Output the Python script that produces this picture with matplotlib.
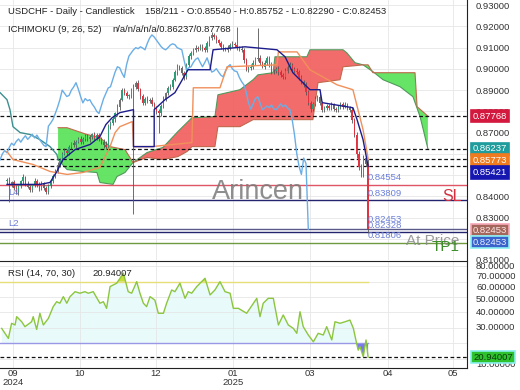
import numpy as np
import matplotlib
matplotlib.use('Agg')
import matplotlib.pyplot as plt
import matplotlib.transforms as mtrans

plt.rcParams['font.family'] = ['Liberation Sans', 'DejaVu Sans']

# daily closes (bar 0 = first visible candle), open = previous close
closes = [0.8478, 0.8452, 0.8465, 0.8440, 0.8421, 0.8448, 0.8470, 0.8492, 0.8460, 0.8445,
          0.8430, 0.8452, 0.8474, 0.8458, 0.8436, 0.8462, 0.8441, 0.8420, 0.8447, 0.8470,
          0.8495, 0.8520, 0.8548, 0.8572, 0.8600, 0.8615, 0.8605, 0.8630, 0.8650, 0.8640,
          0.8658, 0.8670, 0.8655, 0.8672, 0.8685, 0.8668, 0.8680, 0.8692, 0.8675, 0.8688,
          0.8670, 0.8655, 0.8640, 0.8634, 0.8730, 0.8745, 0.8762, 0.8790, 0.8820, 0.8855,
          0.8900, 0.8885, 0.8870, 0.8875, 0.8900, 0.8915, 0.8935, 0.8905, 0.8870, 0.8840,
          0.8860, 0.8850, 0.8855, 0.8835, 0.8820, 0.8800, 0.8790, 0.8825, 0.8860, 0.8885,
          0.8910, 0.8916, 0.8950, 0.8985, 0.9010, 0.9005, 0.8980, 0.8960, 0.9020, 0.9060,
          0.9075, 0.9090, 0.9100, 0.9095, 0.9104, 0.9098, 0.9090, 0.9120, 0.9145, 0.9160,
          0.9150, 0.9135, 0.9120, 0.9105, 0.9095, 0.9090, 0.9100, 0.9112, 0.9118, 0.9114,
          0.9100, 0.9095, 0.9090, 0.9040, 0.8996, 0.9005, 0.9010, 0.9030, 0.9045, 0.9052,
          0.9030, 0.9010, 0.9030, 0.9052, 0.9020, 0.8985, 0.8990, 0.9001, 0.8985, 0.8970,
          0.8963, 0.8990, 0.9010, 0.9020, 0.9000, 0.8990, 0.8987, 0.8960, 0.8940, 0.8925,
          0.8890, 0.8840, 0.8810, 0.8835, 0.8860, 0.8869, 0.8840, 0.8808, 0.8815, 0.8825,
          0.8817, 0.8830, 0.8812, 0.8808, 0.8820, 0.8835, 0.8822, 0.8830, 0.8815, 0.8808,
          0.8760, 0.8690, 0.8600, 0.8540, 0.8503, 0.8580, 0.8554, 0.82453]
first_open = 0.8470
wick_up_pips = [8, 12, 6, 10, 15, 7, 9, 14, 5, 11,
                9, 6, 13, 8, 10, 12, 7, 9, 11, 6,
                10, 8, 12, 7, 9, 11, 6, 10, 8, 13,
                7, 9, 12, 6, 10, 8, 11, 7, 9, 12,
                10, 8, 14, 20, 9, 11, 12, 8, 15, 10,
                12, 9, 11, 8, 10, 14, 9, 12, 7, 10,
                8, 11, 9, 12, 10, 7, 13, 9, 11, 8,
                10, 12, 9, 11, 14, 8, 10, 12, 9, 11,
                10, 8, 12, 9, 11, 13, 8, 10, 12, 15,
                9, 11, 8, 12, 10, 9, 13, 8, 11, 10,
                84, 10, 12, 9, 11, 8, 13, 10, 9, 141,
                12, 9, 10, 11, 8, 12, 10, 9, 11, 8,
                10, 12, 9, 11, 8, 10, 13, 9, 11, 10,
                12, 9, 10, 8, 11, 9, 12, 10, 8, 11,
                9, 12, 10, 8, 11, 9, 10, 12, 8, 10,
                11, 9, 14, 12, 10, 15, 11, 21]
wick_dn_pips = [10, 81, 8, 12, 9, 14, 7, 10, 12, 8,
                11, 9, 7, 13, 10, 8, 12, 9, 10, 7,
                9, 11, 8, 10, 12, 7, 9, 11, 8, 10,
                12, 8, 10, 9, 11, 7, 10, 12, 8, 9,
                11, 9, 12, 10, 8, 13, 9, 11, 10, 12,
                8, 10, 9, 11, 12, 585, 10, 9, 12, 8,
                11, 9, 10, 12, 8, 11, 90, 10, 9, 12,
                8, 11, 10, 9, 12, 10, 8, 11, 9, 10,
                12, 9, 11, 10, 8, 12, 9, 10, 11, 8,
                10, 12, 9, 11, 10, 8, 12, 9, 10, 11,
                9, 11, 10, 12, 8, 10, 11, 9, 12, 10,
                11, 8, 10, 12, 9, 11, 10, 8, 12, 9,
                10, 11, 9, 12, 10, 8, 11, 10, 9, 12,
                11, 9, 12, 10, 8, 11, 9, 10, 12, 8,
                10, 11, 9, 12, 10, 9, 11, 8, 10, 12,
                15, 12, 18, 14, 10, 12, 13, 16]

# ichimoku lines (bar, price vertices)
tenkan_x = [0, 14.3, 18.7, 21.7, 24.3, 29.6, 36.1, 40.4, 43, 45.7, 49.1, 55, 55, 64, 64,
            68.7, 73, 78.7, 88.3, 89.6, 103.5, 117.4, 120.9, 124.3, 131.7, 136.1, 137,
            150.4, 152.2, 154.8, 157]
tenkan_y = [0.8456, 0.8456, 0.8465, 0.8517, 0.8573, 0.8620, 0.8644, 0.8681, 0.8738, 0.8770,
            0.8794, 0.8808, 0.8634, 0.8634, 0.8808, 0.8855, 0.8888, 0.8996, 0.8996, 0.9090,
            0.9104, 0.9090, 0.9057, 0.8982, 0.8902, 0.8902, 0.8841, 0.8817, 0.8761, 0.8667,
            0.85421]
kijun_x = [0, 2.6, 11.3, 18.7, 26.1, 33, 40.4, 44.8, 47, 49.1, 54.5, 55, 63, 80.4, 81, 92.6,
           95.7, 117.4, 118, 126.1, 131.7, 143.5, 150.4, 154.8, 157]
kijun_y = [0.8611, 0.8573, 0.8550, 0.8517, 0.8503, 0.8512, 0.8536, 0.8634, 0.8700, 0.8728,
           0.8752, 0.8634, 0.8634, 0.8653, 0.8911, 0.8911, 0.9010, 0.9019, 0.9080, 0.9080,
           0.8996, 0.8925, 0.8902, 0.8714, 0.85773]
span_a_x = [22.2, 26.1, 33, 39.1, 40.4, 46.1, 47.8, 51.3, 54.8, 60.9, 67.8, 74.3, 80.4, 90.4,
            91.7, 101.3, 107, 109.1, 115.7, 116.5, 130.4, 131.7, 146.1, 147.8, 151.3, 154.8,
            159.1, 163.5, 170.9, 176.5, 179.6, 181.3, 183]
span_a_y = [0.8573, 0.8526, 0.8517, 0.8512, 0.8465, 0.8456, 0.8493, 0.8512, 0.8559, 0.8606,
            0.8630, 0.8705, 0.8770, 0.8775, 0.8878, 0.8902, 0.8949, 0.8972, 0.8982, 0.9057,
            0.9057, 0.9090, 0.9090, 0.9075, 0.9029, 0.9019, 0.8987, 0.8949, 0.8916, 0.8869,
            0.8775, 0.8700, 0.86237]
span_b_x = [22.2, 26.1, 34.8, 40.4, 44.8, 51.3, 54.8, 60.9, 67.8, 74.3, 78.3, 80.4, 90.4, 91.7,
            101.3, 107, 133, 135.2, 144.8, 146.1, 151.3, 154.8, 157, 159.1, 177.4, 178.3,
            181.7, 183]
span_b_y = [0.8723, 0.8723, 0.8691, 0.8677, 0.8634, 0.8620, 0.8559, 0.8583, 0.8573, 0.8587,
            0.8611, 0.8634, 0.8634, 0.8728, 0.8728, 0.8761, 0.8761, 0.8935, 0.8949, 0.9010,
            0.9015, 0.9019, 0.9019, 0.8982, 0.8982, 0.8822, 0.8790, 0.87768]
teal_x = [-3, 0, 1.3, 2.6, 5.7, 10, 14.3, 18.7, 21.7, 22.2]
teal_y = [0.8888, 0.8855, 0.8808, 0.8728, 0.8700, 0.8691, 0.8667, 0.8634, 0.8597, 0.8573]

# horizontal levels
dashed_levels = [0.87768, 0.86237, 0.85773, 0.85421]
sl_level = 0.84554
l4_level = 0.83809
l2_levels = [0.82453, 0.82328]
tp_level = 0.81806

# rsi (bar, value)
rsi_x = [-2.3, 0.6, 2.0, 3.5, 4.2, 6.4, 7.8, 10.7, 11.4, 12.9, 14.3, 15.8, 18.0, 20.1, 21.6,
         23.0, 24.5, 26.0, 27.4, 29.6, 31.7, 33.9, 35.3, 37.5, 40.4, 41.9, 43.3, 44.8, 47.7,
         50.6, 52.7, 54.2, 56.4, 57.8, 59.3, 60.7, 62.2, 64.3, 65.8, 68.0, 69.4, 71.6, 73.0,
         75.2, 77.4, 78.8, 80.3, 82.5, 86.1, 88.3, 90.4, 92.6, 94.8, 97.0, 98.4, 100.6, 104.2,
         108.6, 110.0, 111.4, 113.6, 115.8, 118.0, 120.1, 122.3, 124.5, 126.0, 127.4, 128.8,
         131.0, 133.2, 135.3, 137.5, 139.0, 141.2, 142.6, 144.8, 147.0, 149.1, 150.6, 152.0,
         152.7, 153.5, 154.9, 156.1, 157.0]
rsi_y = [39.7, 33.2, 43.0, 41.9, 47.3, 44.0, 40.8, 44.0, 47.3, 39.0, 49.5, 41.9, 46.2, 53.8,
         57.0, 56.0, 60.3, 56.0, 60.3, 63.5, 62.5, 63.5, 62.5, 63.5, 56.0, 57.0, 52.7, 66.8,
         69.0, 75.5, 63.5, 62.5, 70.0, 62.5, 56.0, 53.8, 60.3, 58.0, 49.5, 49.5, 56.0, 64.6,
         63.5, 69.0, 59.2, 63.5, 62.5, 66.8, 72.2, 61.4, 64.6, 70.0, 63.5, 62.5, 52.7, 52.7,
         49.5, 59.2, 47.3, 56.0, 59.2, 59.2, 41.9, 48.4, 41.9, 39.7, 36.5, 50.5, 40.8, 35.4,
         31.0, 36.5, 35.4, 40.8, 32.2, 44.0, 43.0, 44.0, 45.1, 39.7, 30.0, 25.6, 27.8, 21.3,
         32.2, 20.94007]
rsi_label_pos = [80.8, 73.9, 66.8, 58.8, 50.5, 40.8, 16.6]
rsi_label_txt = ['80.00000', '70.00000', '60.00000', '50.00000', '40.00000', '30.00000', '10.00000']

month_pos = [2.6, 31.7, 64.8, 98.3, 131.7, 165.6, 194.0]
month_lbl = ['09\n2024', '10', '12', '01\n2025', '03', '04', '05']
price_ticks = [0.81, 0.82, 0.83, 0.84, 0.85, 0.86, 0.87, 0.88, 0.89, 0.90, 0.91, 0.92, 0.93]
price_lbls = ['0.81000', '', '0.83000', '0.84000', '', '', '0.87000', '0.88000', '0.89000',
              '0.90000', '0.91000', '0.92000', '0.93000']

# --- figure
fig = plt.figure(figsize=(5.2, 3.9), dpi=100)
ax = fig.add_axes([0, 130 / 390, 467 / 520, 260 / 390])
ax2 = fig.add_axes([0, 22 / 390, 467 / 520, 107 / 390])

xlim = (-3.04, 200)
ax.set_xlim(*xlim)
ax.set_ylim(0.81038, 0.93244)

c = np.array(closes)
o = np.r_[first_open, c[:-1]]
hi = np.maximum(o, c) + np.array(wick_up_pips) / 1e4
lo = np.minimum(o, c) - np.array(wick_dn_pips) / 1e4
idx = np.arange(len(c))
up = c >= o

# cloud
sa_x, sa_y = np.array(span_a_x), np.array(span_a_y)
sb_x, sb_y = np.array(span_b_x), np.array(span_b_y)
gx = np.union1d(sa_x, sb_x)
ga = np.interp(gx, sa_x, sa_y)
gb = np.interp(gx, sb_x, sb_y)
ax.fill_between(gx, ga, gb, where=gb >= ga, interpolate=True, color='#55e255', alpha=0.9, lw=0, zorder=1)
ax.fill_between(gx, ga, gb, where=gb < ga, interpolate=True, color='#f25c5c', alpha=0.9, lw=0, zorder=1)
ax.plot(sa_x, sa_y, color='#4f9a5a', lw=0.8, zorder=1.5)
ax.plot(sb_x, sb_y, color='#c0684c', lw=0.8, zorder=1.5)

# horizontal levels
for lv in dashed_levels:
    ax.axhline(lv, color='#111111', lw=0.9, ls=(0, (3, 2)), zorder=2)
ax.axhline(sl_level, color='#e05565', lw=1.0, zorder=2)
ax.axhline(l4_level, color='#23236e', lw=1.0, zorder=2)
ax.axhline(l2_levels[0], color='#5a5a8a', lw=1.0, zorder=2)
ax.axhline(l2_levels[1], color='#23236e', lw=1.0, zorder=2)
ax.axhline(tp_level, color='#6f9a40', lw=1.0, zorder=2)

# candles
ax.vlines(idx, lo, hi, color='#555555', lw=0.6, zorder=3)
ax.bar(idx[up], (c - o)[up], bottom=o[up], width=0.6, color='#2f9e78', zorder=4)
ax.bar(idx[~up], (c - o)[~up], bottom=o[~up], width=0.6, color='#e0323f', zorder=4)

# ichimoku lines
ax.plot(teal_x, teal_y, color='#3f8f8f', lw=1.0, zorder=5)
ax.plot(idx[23:] - 26, c[23:], color='#6aaee6', lw=1.0, zorder=5)
ax.plot(kijun_x, kijun_y, color='#f0905a', lw=1.0, zorder=5)
ax.plot(tenkan_x, tenkan_y, color='#1c1c8c', lw=1.0, zorder=5)

# grid / axes look
ax.set_yticks(price_ticks)
ax.set_yticklabels(price_lbls)
ax.yaxis.tick_right()
ax.set_xticks(month_pos)
ax.set_xticklabels([])
ax.grid(True, color='#e6e6e6', lw=0.6, zorder=0)
ax.set_axisbelow(True)
ax.tick_params(axis='both', length=0, labelsize=6.8, colors='#333333', pad=6.5)
for s in ['left', 'top', 'bottom']:
    ax.spines[s].set_visible(False)
ax.spines['right'].set_color('#222222')

# labels on levels
lab_col = '#6b7fd7'
for lv, dy in [(0.84554, 2), (0.83809, 2), (0.82453, 4), (0.82328, 1.5), (0.81806, 2)]:
    ax.annotate('%.5f' % lv, (157, lv), xytext=(0, dy), textcoords='offset points',
                fontsize=6.8, color=lab_col, va='bottom', ha='left', zorder=6)
ax.text(0.5, 0.8418, 'L4', fontsize=6.8, color=lab_col, va='center', zorder=6)
ax.text(0.5, 0.8273, 'L2', fontsize=6.8, color=lab_col, va='center', zorder=6)
ax.text(89.1, 0.8418, 'Arincen', fontsize=19.5, color='#7a7a7a', alpha=0.85, va='center', zorder=6)
ax.text(189.1, 0.8400, 'SL', fontsize=11.5, color='#d5303f', va='center', zorder=6)
ax.text(173.5, 0.8189, 'At Price', fontsize=11, color='#8a8a8a', alpha=0.85, va='center', zorder=6)
ax.text(184.8, 0.8163, 'TP1', fontsize=11, color='#3c8c28', va='center', zorder=6)

# price boxes on the right axis
tr = mtrans.blended_transform_factory(ax.transAxes, ax.transData)
boxes = [(0.87768, '0.87768', '#d4193f', 'white', '#d4193f'),
         (0.86237, '0.86237', '#1f9c9c', 'white', '#1f9c9c'),
         (0.8568, '0.85773', '#f07a1e', 'white', '#f07a1e'),
         (0.8512, '0.85421', '#1616b0', 'white', '#1616b0'),
         (0.8240, '0.82453', '#a3675c', '#ffe8e8', '#f7a8b8'),
         (0.8184, '0.82453', '#3b63cc', '#e8f0ff', '#8af0f0')]
for yv, txt, fc, tc, ec in boxes:
    ax.text(1.013, yv, txt, transform=tr, fontsize=6.8, color=tc, va='center', ha='left',
            clip_on=False, zorder=10,
            bbox=dict(boxstyle='square,pad=0.18', fc=fc, ec=ec, lw=1.2))

# --- RSI panel
ax2.set_xlim(*xlim)
ax2.set_ylim(14.0, 83.4)
ax2.plot(rsi_x, rsi_y, color='#8cc63e', lw=1.0, zorder=4)
rx, ry = np.array(rsi_x), np.array(rsi_y)
ax2.fill_between(rx, ry, 30, where=ry > 30, interpolate=True, color='#dff8f8', alpha=0.7, lw=0, zorder=1)
ax2.fill_between(rx, ry, 70, where=ry > 70, interpolate=True, color='#c8dc3a', lw=0, zorder=2)
ax2.fill_between(rx, ry, 30, where=ry < 30, interpolate=True, color='#7a78f0', lw=0, zorder=2)
ax2.plot([-3.04, 157], [70, 70], color='#e6df78', lw=1.0, zorder=3)
ax2.plot([-3.04, 157], [30, 30], color='#9a98e6', lw=1.0, zorder=3)
ax2.axhline(rsi_y[-1], color='#111111', lw=0.9, ls=(0, (3, 2)), zorder=3)

ax2.set_yticks(rsi_label_pos)
ax2.set_yticklabels(rsi_label_txt)
ax2.set_yticks([20, 30, 40, 50, 60, 70, 80], minor=True)
ax2.yaxis.tick_right()
ax2.yaxis.set_tick_params(which='both', right=True)
ax2.set_xticks(month_pos)
ax2.set_xticklabels(month_lbl, linespacing=0.95)
ax2.grid(True, which='minor', axis='y', color='#e6e6e6', lw=0.6, zorder=0)
ax2.grid(True, which='major', axis='x', color='#e6e6e6', lw=0.6, zorder=0)
ax2.tick_params(axis='both', which='both', length=0, labelsize=6.8, colors='#333333')
ax2.tick_params(axis='y', pad=6.5)
ax2.tick_params(axis='x', pad=1)
ax2.spines['left'].set_visible(False)
for s in ['top', 'right', 'bottom']:
    ax2.spines[s].set_color('#222222')

tr2 = mtrans.blended_transform_factory(ax2.transAxes, ax2.transData)
ax2.text(1.013, rsi_y[-1], '%.5f' % rsi_y[-1], transform=tr2, fontsize=6.8, color='#0a3a0a',
         va='center', ha='left', clip_on=False, zorder=10,
         bbox=dict(boxstyle='square,pad=0.18', fc='#2fc22f', ec='#8af0f0', lw=1.2))

# header texts
fs = 6.8
fig.text(8 / 520, 1 - 12 / 390, 'USDCHF - Daily - Candlestick', fontsize=fs, color='#222222', va='center')
fig.text(145 / 520, 1 - 12 / 390, '158/211 - O:0.85540 - H:0.85752 - L:0.82290 - C:0.82453',
         fontsize=fs, color='#222222', va='center')
fig.text(8 / 520, 1 - 30 / 390, 'ICHIMOKU (9, 26, 52)', fontsize=fs, color='#222222', va='center')
fig.text(112 / 520, 1 - 30 / 390, 'n/a/n/a/n/a/0.86237/0.87768', fontsize=fs, color='#222222', va='center')
fig.text(8 / 520, 1 - 273 / 390, 'RSI (14, 70, 30)', fontsize=fs, color='#222222', va='center')
fig.text(92 / 520, 1 - 273 / 390, '20.94007', fontsize=fs, color='#222222', va='center')

fig.savefig('out.png', dpi=100)
